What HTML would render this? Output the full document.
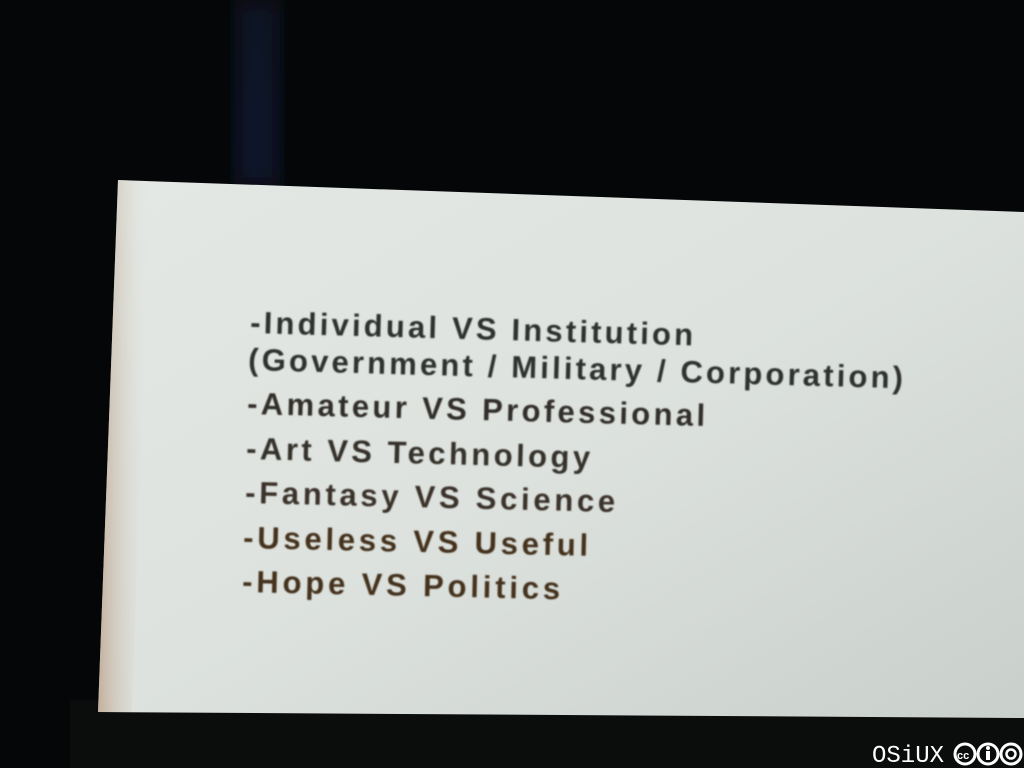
<!DOCTYPE html>
<html><head><meta charset="utf-8"><style>
html,body{margin:0;padding:0;background:#050608;width:1024px;height:768px;overflow:hidden}
</style></head><body>
<svg width="1024" height="768" viewBox="0 0 1024 768" xmlns="http://www.w3.org/2000/svg">
<defs>
<linearGradient id="scr" x1="0" y1="0" x2="1" y2="1">
<stop offset="0" stop-color="#e4e8e4"/>
<stop offset="0.5" stop-color="#dde2de"/>
<stop offset="1" stop-color="#c9cfcb"/>
</linearGradient>
<linearGradient id="edge" x1="0" y1="0" x2="1" y2="0">
<stop offset="0" stop-color="#b89a80" stop-opacity="0.7"/>
<stop offset="1" stop-color="#e0e4e0" stop-opacity="0"/>
</linearGradient>
<linearGradient id="streak" x1="0" y1="0" x2="0" y2="1">
<stop offset="0" stop-color="#0d1a38" stop-opacity="0.6"/>
<stop offset="1" stop-color="#0a1530" stop-opacity="0.9"/>
</linearGradient>
<filter id="blur"><feGaussianBlur stdDeviation="0.8"/></filter>
<filter id="bigblur"><feGaussianBlur stdDeviation="12"/></filter>
</defs>
<rect width="1024" height="768" fill="#050608"/>
<rect x="235" y="0" width="45" height="185" fill="url(#streak)" filter="url(#bigblur)"/>
<rect x="70" y="700" width="954" height="68" fill="#0b0c0c"/>
<polygon points="118,180 1024,212 1024,718 98,712" fill="url(#scr)"/>
<polygon points="118,180 150,181 132,712 98,712" fill="url(#edge)"/>
<g font-family="'Liberation Sans',sans-serif" font-weight="bold" font-size="31" filter="url(#blur)">
<text x="250" y="333" fill="#2e302e" transform="rotate(1.6 250 333)" textLength="443">-Individual VS Institution</text>
<text x="248" y="370" fill="#2e302e" transform="rotate(1.6 248 370)" textLength="655">(Government / Military / Corporation)</text>
<text x="247" y="414" fill="#332f2b" transform="rotate(1.5 247 414)" textLength="458">-Amateur VS Professional</text>
<text x="246" y="459" fill="#35302b" transform="rotate(1.5 246 459)" textLength="344">-Art VS Technology</text>
<text x="245" y="503" fill="#3a3029" transform="rotate(1.4 245 503)" textLength="370">-Fantasy VS Science</text>
<text x="243" y="548" fill="#45321f" transform="rotate(1.3 243 548)" textLength="345">-Useless VS Useful</text>
<text x="242" y="592" fill="#45321f" transform="rotate(1.3 242 592)" textLength="318">-Hope VS Politics</text>
</g>
<g fill="#fff">
<text x="872" y="762" font-family="'Liberation Mono',monospace" font-size="24">OSiUX</text>
<circle cx="965" cy="754" r="10" fill="none" stroke="#fff" stroke-width="3"/>
<text x="957" y="759" font-family="'Liberation Sans',sans-serif" font-weight="bold" font-size="11">cc</text>
<circle cx="988" cy="754" r="10" fill="none" stroke="#fff" stroke-width="3"/>
<circle cx="988" cy="748" r="2"/><rect x="986" y="751" width="4" height="9"/>
<circle cx="1011" cy="754" r="10" fill="none" stroke="#fff" stroke-width="3"/>
<circle cx="1011" cy="754" r="4.5" fill="none" stroke="#fff" stroke-width="2.5"/>
</g>
</svg>
</body></html>
